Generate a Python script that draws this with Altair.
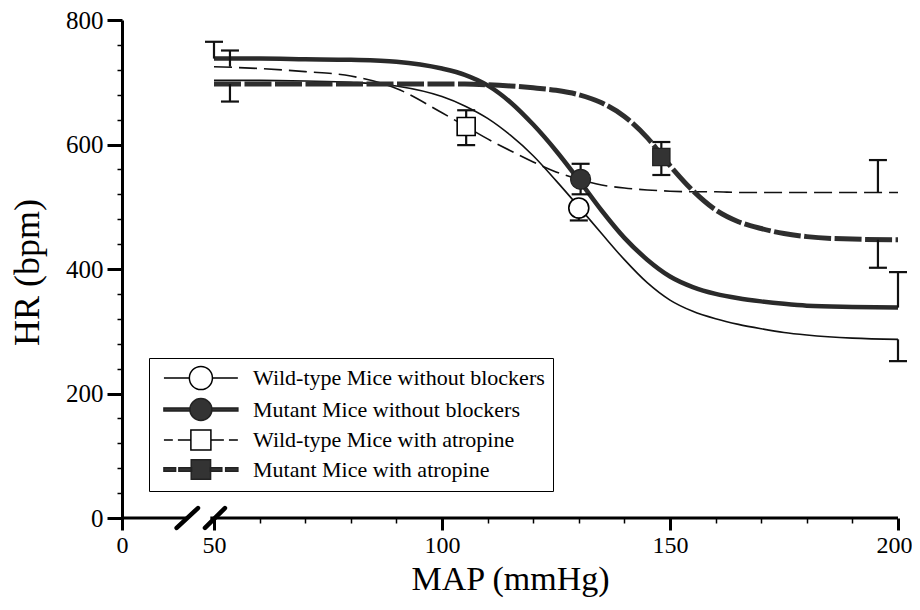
import altair as alt
import pandas as pd

FONT = "Liberation Serif"

# ---------------- data ----------------
map_grid = [50, 60, 70, 80, 90, 100, 105, 110, 115, 120, 125, 130, 135, 140, 145,
            150, 155, 160, 165, 170, 175, 180, 190, 200]
hr_wt_none = [703, 703, 702, 700, 694, 677, 662, 642, 615, 582, 542, 500, 457, 415, 378,
              350, 332, 320, 311, 304, 298, 294, 289, 287]
hr_mut_none = [738, 738, 737, 736, 733, 722, 712, 695, 668, 632, 590, 543, 494, 450, 415,
               388, 371, 360, 353, 348, 344, 341, 339, 338]
hr_wt_atr = [725, 722, 717, 710, 690, 651, 630, 609, 590, 572, 556, 544, 535, 530, 527,
             525, 524, 524, 523, 523, 523, 523, 523, 523]
hr_mut_atr = [697, 697, 697, 697, 697, 697, 697, 696, 694, 691, 687, 680, 667, 645, 611,
              566, 526, 495, 476, 465, 457, 452, 448, 447]

series = ["Wild-type Mice without blockers", "Mutant Mice without blockers",
          "Wild-type Mice with atropine", "Mutant Mice with atropine"]

marker_map = [130.0, 130.4, 105.3, 148.1]
marker_hr = [498, 544, 629, 580]

err_series_idx = [0, 1, 1, 2, 2, 3, 3, 1, 2, 3, 0, 1, 2, 3]
err_map = [130.0, 130.4, 130.4, 105.3, 105.3, 148.1, 148.1, 50.0, 53.5, 53.5, 200.0, 200.0, 195.6, 195.6]
err_from = [498, 544, 544, 629, 629, 580, 580, 738, 725, 697, 287, 338, 523, 447]
err_to = [478, 569, 520, 655, 599, 604, 551, 765, 751, 669, 252, 395, 575, 402]

x_tick_values = [0, 50, 60, 70, 80, 90, 100, 110, 120, 130, 140, 150, 160, 170, 180, 190, 200]
y_tick_values = [0, 40, 80, 120, 160, 200, 240, 280, 320, 360, 400, 440, 480, 520, 560,
                 600, 640, 680, 720, 760, 800]

# axis line pieces and break marks (data units)
axis_seg_from = [0, 48]
axis_seg_to = [35.5, 200]
break_x0 = [29.7, 45.1]
break_x1 = [41.3, 52.4]
break_y0 = [-16, -16]
break_y1 = [16, 16]

# ---------------- styles ----------------
line_styles = [
    dict(strokeWidth=1.6, color="#111111"),
    dict(strokeWidth=4.5, color="#2a2a2a"),
    dict(strokeWidth=1.6, color="#111111", strokeDash=[18, 7]),
    dict(strokeWidth=5.0, color="#2e2e2e", strokeDash=[27, 3.5]),
]
marker_styles = [
    dict(shape="circle", size=400, fill="white", stroke="black", strokeWidth=1.6),
    dict(shape="circle", size=400, fill="#333333", stroke="#222222", strokeWidth=1.2),
    dict(shape="square", size=324, fill="white", stroke="black", strokeWidth=1.6),
    dict(shape="square", size=300, fill="#333333", stroke="#222222", strokeWidth=1.2),
]
# legend glyphs: line + marker, drawn in symbol units (1 unit = 11 px), shifted right
legend_paths = [
    "M-0.46,0H1.85M3.95,0H6.26M1.85,0A1.05,1.05,0,1,1,3.95,0A1.05,1.05,0,1,1,1.85,0Z",
    "M-0.46,-0.14H1.9V0.14H-0.46ZM3.9,-0.14H6.26V0.14H3.9ZM1.9,0A1,1,0,1,1,3.9,0A1,1,0,1,1,1.9,0Z",
    "M-0.46,0H0.35M0.81,0H1.99M3.81,0H4.99M5.45,0H6.26M1.99,-0.91H3.81V0.91H1.99Z",
    "M-0.46,-0.15H0.6V0.15H-0.46ZM0.9,-0.15H2.05V0.15H0.9ZM3.75,-0.15H4.8V0.15H3.75Z"
    "M5.15,-0.15H6.26V0.15H5.15ZM2.02,-0.88H3.78V0.88H2.02Z",
]
legend_fills = ["white", "#333333", "white", "#333333"]
legend_strokes = ["black", "#222222", "black", "#222222"]

# ---------------- scales & axes ----------------
x_scale = alt.Scale(domain=[0, 50, 200], range=[0, 92, 776], nice=False, zero=False)
y_scale = alt.Scale(domain=[0, 800], nice=False, zero=False)

x_axis = alt.Axis(
    values=x_tick_values, domain=False, grid=False,
    labelExpr="datum.value % 50 === 0 ? datum.label : ''",
    labelFlush=False, labelOverlap=False,
    labelOffset={"condition": {"test": "datum.value === 200", "value": -4}, "value": 0},
    tickSize={"condition": {"test": "datum.value % 50 === 0", "value": 12}, "value": 5},
    tickWidth={"condition": {"test": "datum.value % 50 === 0", "value": 3}, "value": 1.5},
    tickColor="black", labelColor="black", labelFont=FONT, labelFontSize=24, labelPadding=3,
    title="MAP (mmHg)", titleFont=FONT, titleFontSize=34, titleFontWeight="normal",
    titleColor="black", titleY=71, titleBaseline="alphabetic",
)
y_axis = alt.Axis(
    values=y_tick_values, grid=False,
    labelExpr="datum.value % 200 === 0 ? datum.label : ''",
    labelOverlap=False, labelFlush=False,
    tickSize={"condition": {"test": "datum.value % 200 === 0", "value": 15}, "value": 5},
    tickWidth={"condition": {"test": "datum.value % 200 === 0", "value": 3}, "value": 1.5},
    tickColor="black", domainColor="black", domainWidth=3,
    labelColor="black", labelFont=FONT, labelFontSize=25, labelPadding=4,
    title="HR (bpm)", titleFont=FONT, titleFontSize=36, titleFontWeight="normal",
    titleColor="black", titleX=-84, titleY=252, titleBaseline="alphabetic",
)


def X(field):
    return alt.X(f"{field}:Q", scale=x_scale, axis=x_axis)


def Y(field):
    return alt.Y(f"{field}:Q", scale=y_scale, axis=y_axis)


layers = []

# axis line with the break
axis_df = pd.DataFrame({"x0": axis_seg_from, "x1": axis_seg_to, "y0": [0, 0]})
layers.append(
    alt.Chart(axis_df).mark_rule(color="black", strokeWidth=3).encode(
        x=X("x0"), x2="x1", y=Y("y0"))
)
break_df = pd.DataFrame({"x0": break_x0, "x1": break_x1, "y0": break_y0, "y1": break_y1})
layers.append(
    alt.Chart(break_df).mark_rule(color="black", strokeWidth=4.5, strokeCap="round").encode(
        x=X("x0"), x2="x1", y=Y("y0"), y2="y1")
)

# curves
curve_values = [hr_wt_none, hr_mut_none, hr_wt_atr, hr_mut_atr]
for i, vals in enumerate(curve_values):
    df = pd.DataFrame({"map": map_grid, "hr": vals})
    layers.append(
        alt.Chart(df).mark_line(interpolate="monotone", **line_styles[i]).encode(
            x=X("map"), y=Y("hr"))
    )

# error bars
err_df = pd.DataFrame({
    "series": [series[k] for k in err_series_idx],
    "map": err_map, "y0": err_from, "y1": err_to,
})
layers.append(
    alt.Chart(err_df).mark_rule(color="#111111", strokeWidth=2.2).encode(
        x=X("map"), y=Y("y0"), y2="y1")
)
layers.append(
    alt.Chart(err_df).mark_tick(color="#111111", orient="horizontal", size=18,
                                thickness=2.2, opacity=1).encode(
        x=X("map"), y=Y("y1"))
)

# markers
mk_df = pd.DataFrame({"series": series, "map": marker_map, "hr": marker_hr})
for i, name in enumerate(series):
    st = marker_styles[i]
    layers.append(
        alt.Chart(mk_df).transform_filter(alt.datum.series == name).mark_point(
            filled=True, opacity=1, **st).encode(x=X("map"), y=Y("hr"))
    )

# legend (from scales only; no visible marks)
legend = alt.Legend(
    title=None, orient="bottom-left", offset=27, padding=8,
    strokeColor="black", fillColor="white",
    labelFont=FONT, labelFontSize=22, labelColor="black", labelLimit=500, labelOffset=72,
    symbolSize=484, symbolStrokeWidth=1.5, symbolOpacity=1,
    rowPadding=2.5,
)
layers.append(
    alt.Chart(mk_df).transform_filter("false").mark_point(
        filled=True, opacity=1, strokeWidth=1.5).encode(
        x=X("map"), y=Y("hr"),
        shape=alt.Shape("series:N", scale=alt.Scale(domain=series, range=legend_paths), legend=legend),
        fill=alt.Fill("series:N", scale=alt.Scale(domain=series, range=legend_fills), legend=legend),
        stroke=alt.Stroke("series:N", scale=alt.Scale(domain=series, range=legend_strokes), legend=legend),
    )
)

chart = alt.layer(*layers).properties(
    width=776, height=498,
    autosize=alt.AutoSizeParams(type="none"),
    padding={"left": 114, "top": 12, "right": 14, "bottom": 80},
).configure_view(stroke=None).configure_axis(grid=False)

chart.save("out.html", embed_options={"renderer": "svg", "actions": False})
